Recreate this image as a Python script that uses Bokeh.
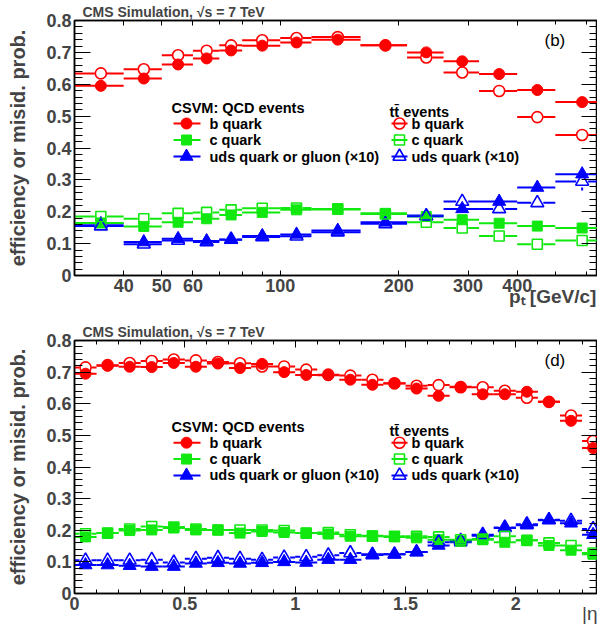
import math

from bokeh.plotting import figure
from bokeh.layouts import column
from bokeh.models import (Range1d, LinearScale, FixedTicker, LinearAxis, Label,
                          CustomJSTickFormatter)
from bokeh.embed import file_html
from bokeh.resources import INLINE

# ---------------- data: CSVM tagging efficiency / misidentification ----------------
# jet pT bins [GeV/c]
pt_edges = [30, 40, 50, 60, 70, 80, 100, 120, 160, 210, 260, 320, 400, 500, 670]
qcd_b_pt = [0.595, 0.618, 0.662, 0.681, 0.706, 0.721, 0.731, 0.740, 0.722, 0.700, 0.672, 0.632, 0.582, 0.544]
qcd_c_pt = [0.165, 0.154, 0.167, 0.178, 0.190, 0.198, 0.206, 0.207, 0.195, 0.185, 0.175, 0.164, 0.155, 0.149]
qcd_l_pt = [0.162, 0.105, 0.115, 0.108, 0.112, 0.124, 0.129, 0.141, 0.167, 0.188, 0.209, 0.232, 0.276, 0.318]
tt_b_pt = [0.634, 0.647, 0.691, 0.705, 0.722, 0.738, 0.745, 0.748, 0.722, 0.684, 0.637, 0.579, 0.497, 0.441]
tt_c_pt = [0.185, 0.178, 0.195, 0.198, 0.206, 0.211, 0.212, 0.209, 0.193, 0.167, 0.149, 0.124, 0.098, 0.110]
tt_l_pt = [0.155, 0.098, 0.110, 0.105, 0.113, 0.121, 0.123, 0.136, 0.162, 0.186, 0.232, 0.209, 0.228, 0.295]
tt_l_pt_err = [0, 0, 0, 0, 0, 0, 0, 0, 0, 0, 0, 0, 0.006, 0.028]

# jet |eta| bins
eta_edges = [0.0, 0.1, 0.2, 0.3, 0.4, 0.5, 0.6, 0.7, 0.8, 0.9, 1.0, 1.1, 1.2,
             1.3, 1.4, 1.5, 1.6, 1.7, 1.8, 1.9, 2.0, 2.1, 2.2, 2.3, 2.4]
qcd_b_eta = [0.695, 0.720, 0.717, 0.716, 0.729, 0.717, 0.727, 0.713, 0.726, 0.700, 0.691, 0.690,
             0.676, 0.660, 0.664, 0.648, 0.625, 0.654, 0.630, 0.630, 0.638, 0.606, 0.546, 0.460]
qcd_c_eta = [0.179, 0.191, 0.199, 0.201, 0.207, 0.201, 0.201, 0.191, 0.196, 0.193, 0.191, 0.188,
             0.181, 0.183, 0.179, 0.176, 0.170, 0.165, 0.170, 0.162, 0.168, 0.152, 0.137, 0.124]
qcd_l_eta = [0.090, 0.090, 0.088, 0.085, 0.085, 0.095, 0.097, 0.095, 0.097, 0.100, 0.098, 0.107,
             0.107, 0.124, 0.124, 0.131, 0.152, 0.162, 0.183, 0.207, 0.216, 0.232, 0.222, 0.186]
tt_b_eta = [0.715, 0.722, 0.729, 0.735, 0.740, 0.737, 0.732, 0.728, 0.718, 0.718, 0.708, 0.692,
            0.689, 0.676, 0.665, 0.657, 0.659, 0.652, 0.652, 0.641, 0.619, 0.606, 0.563, 0.482]
tt_c_eta = [0.189, 0.191, 0.204, 0.212, 0.210, 0.204, 0.201, 0.201, 0.201, 0.199, 0.191, 0.193,
            0.186, 0.181, 0.181, 0.181, 0.179, 0.170, 0.172, 0.181, 0.168, 0.160, 0.152, 0.128]
tt_l_eta = [0.105, 0.105, 0.105, 0.107, 0.098, 0.110, 0.113, 0.110, 0.107, 0.114, 0.116, 0.121,
            0.128, 0.122, 0.124, 0.131, 0.162, 0.167, 0.186, 0.209, 0.219, 0.233, 0.230, 0.204]

# axis ticks
y_ticks = [0, 0.1, 0.2, 0.3, 0.4, 0.5, 0.6, 0.7, 0.8]
pt_ticks = [40, 50, 60, 100, 200, 300, 400]
pt_minor_ticks = [70, 80, 90, 500, 600]
eta_ticks = [0, 0.5, 1, 1.5, 2]

# ---------------- style ----------------
FONT = "Liberation Sans"
RED, GREEN, BLUE = "#ff0000", "#10e810", "#0000ff"
FRAME_W, FRAME_H = 523, 255
PT_RANGE = (30, 640)
ETA_RANGE = (0, 2.37)
Y_RANGE = (0, 0.8)
GAP = 6  # px kept free around hollow markers
NBSP = "\u00a0"

qcd_keys = [("b quark", RED, "circle", 11),
            ("c quark", GREEN, "square", 10),
            ("uds quark or gluon (\u00d710)", BLUE, "triangle", 13)]
tt_keys = [("b quark", RED, "circle", 11),
           ("c quark", GREEN, "square", 10),
           ("uds quark (\u00d710)", BLUE, "triangle", 13)]

label_fmt = CustomJSTickFormatter(code="return String(Math.round(tick*10)/10)")
blank_fmt = CustomJSTickFormatter(code="return ''")
y_minor = [round(0.02 * i, 2) for i in range(41)]


def style_axis(ax, tick_in, minor_in, labels=True):
    ax.axis_line_color = "black"
    ax.axis_line_width = 1.5
    ax.major_tick_in = tick_in
    ax.major_tick_out = 0
    ax.minor_tick_in = minor_in
    ax.minor_tick_out = 0
    ax.major_tick_line_color = "black"
    ax.minor_tick_line_color = "black"
    if labels:
        ax.major_label_text_font = FONT
        ax.major_label_text_font_style = "bold"
        ax.major_label_text_font_size = "18px"
        ax.major_label_standoff = 3
    else:
        ax.formatter = blank_fmt
        ax.major_label_standoff = 0


def end_label(ax, text, size, bold, standoff):
    # axis title at the right end of the axis; the label is centred on the
    # axis end, so trailing no-break spaces push the visible text leftwards
    ax.axis_label = text
    ax.axis_label_text_font = FONT
    ax.axis_label_text_font_size = size
    ax.axis_label_text_font_style = "bold" if bold else "normal"
    ax.axis_label_standoff = standoff
    try:
        ax.axis_label_standoff_mode = "axis"
    except ValueError:
        pass
    try:
        ax.axis_label_align = "end"
    except ValueError:
        ax.axis_label_align = "right"


def make_panel(log_x, x_range, x_ticks, x_minor, top_border, bottom_border):
    p = figure(width=597, height=313,
               x_axis_type="log" if log_x else "linear",
               x_range=x_range, y_range=Y_RANGE,
               output_backend="svg", toolbar_location=None,
               min_border_left=74, min_border_right=0,
               min_border_top=top_border, min_border_bottom=bottom_border,
               background_fill_color="white", border_fill_color="white")
    p.grid.visible = False
    p.outline_line_color = "black"
    p.outline_line_width = 1.5

    p.title.text = "CMS Simulation, \u221as = 7 TeV"
    p.title.align = "left"
    p.title.offset = 8
    p.title.standoff = 1
    p.title.text_font = FONT
    p.title.text_font_size = "14px"
    p.title.text_font_style = "bold"

    xa = p.below[0]
    xa.ticker = FixedTicker(ticks=x_ticks, minor_ticks=x_minor)
    xa.formatter = label_fmt
    style_axis(xa, 5 if log_x else 7, 4)

    ya = p.left[0]
    ya.ticker = FixedTicker(ticks=y_ticks, minor_ticks=y_minor)
    ya.formatter = label_fmt
    style_axis(ya, 16, 8)
    ya.axis_label = "efficiency or misid. prob."
    ya.axis_label_text_font = FONT
    ya.axis_label_text_font_style = "bold"
    ya.axis_label_text_font_size = "20px"
    ya.axis_label_standoff = 14

    top_ax = LinearAxis(ticker=FixedTicker(ticks=x_ticks, minor_ticks=x_minor))
    style_axis(top_ax, 5 if log_x else 7, 4, labels=False)
    p.add_layout(top_ax, "above")
    right_ax = LinearAxis(ticker=FixedTicker(ticks=y_ticks, minor_ticks=y_minor))
    style_axis(right_ax, 16, 8, labels=False)
    p.add_layout(right_ax, "right")

    # pixel-based coordinates for the in-frame key and tag
    p.extra_x_ranges = {"px": Range1d(0, FRAME_W)}
    p.extra_x_scales = {"px": LinearScale()}
    p.extra_y_ranges = {"px": Range1d(0, FRAME_H)}
    p.extra_y_scales = {"px": LinearScale()}
    return p, xa


def text(p, x, y, s, size, bold=True):
    p.add_layout(Label(x=x, y=y, x_range_name="px", y_range_name="px", text=s,
                       text_font=FONT, text_font_size=size,
                       text_font_style="bold" if bold else "normal",
                       text_baseline="middle", text_align="left", text_color="black"))


def draw_series(p, edges, vals, color, marker, size, filled, xshift, yerr=None):
    lo, hi = edges[:-1], edges[1:]
    xc = [(a + b) / 2 for a, b in zip(lo, hi)]
    if filled:
        p.segment(x0=lo, y0=vals, x1=hi, y1=vals, line_color=color, line_width=2)
    else:
        p.segment(x0=lo, y0=vals, x1=[xshift(c, -1) for c in xc], y1=vals,
                  line_color=color, line_width=2)
        p.segment(x0=[xshift(c, 1) for c in xc], y0=vals, x1=hi, y1=vals,
                  line_color=color, line_width=2)
    if yerr is not None:
        dy = GAP * (Y_RANGE[1] - Y_RANGE[0]) / FRAME_H
        ex = [c for c, e in zip(xc, yerr) if e > dy]
        ev = [v for v, e in zip(vals, yerr) if e > dy]
        ee = [e for e in yerr if e > dy]
        p.segment(x0=ex, y0=[v + dy for v in ev], x1=ex, y1=[v + e for v, e in zip(ev, ee)],
                  line_color=color, line_width=2)
        p.segment(x0=ex, y0=[v - dy for v in ev], x1=ex, y1=[v - e for v, e in zip(ev, ee)],
                  line_color=color, line_width=2)
    p.scatter(xc, vals, marker=marker, size=size, line_color=color,
              fill_color=color if filled else None,
              line_width=1 if filled else 1.6)


def draw_key(p):
    rows = [152, 135.5, 119]
    text(p, 97, 168, "CSVM: QCD events", "14.5px")
    text(p, 315, 164, "tt\u0304 events", "14.5px")
    for keys, filled, (xa, xb), xm, xt in ((qcd_keys, True, (99, 126), 112, 135),
                                           (tt_keys, False, (317, 333), 325, 337)):
        for (lab, color, marker, size), y in zip(keys, rows):
            p.segment(x0=[xa], y0=[y], x1=[xb], y1=[y], line_color=color, line_width=2,
                      x_range_name="px", y_range_name="px")
            p.scatter([xm], [y], marker=marker, size=size, line_color=color,
                      fill_color=color if filled else None,
                      line_width=1 if filled else 1.6,
                      x_range_name="px", y_range_name="px")
            text(p, xt, y, lab, "14.5px")


def draw_panel(p, edges, series, xshift, tag):
    for vals, color, marker, size, filled, err in series:
        draw_series(p, edges, vals, color, marker, size, filled, xshift, err)
    draw_key(p)
    text(p, 470, 235, tag, "17px", bold=False)


# ---------------- top panel: vs pT ----------------
top, top_x = make_panel(True, PT_RANGE, pt_ticks, pt_minor_ticks, 20, 38)
ppd = FRAME_W / math.log10(PT_RANGE[1] / PT_RANGE[0])


def log_shift(c, d):
    return c * 10 ** (d * GAP / ppd)


draw_panel(top, pt_edges, [
    (qcd_l_pt, BLUE, "triangle", 13, True, None),
    (qcd_c_pt, GREEN, "square", 10, True, None),
    (qcd_b_pt, RED, "circle", 11, True, None),
    (tt_l_pt, BLUE, "triangle", 13, False, tt_l_pt_err),
    (tt_c_pt, GREEN, "square", 10, False, None),
    (tt_b_pt, RED, "circle", 11, False, None),
], log_shift, "(b)")
end_label(top_x, "p\u209c [GeV/c]" + NBSP * 17, "19px", True, 10)

# ---------------- bottom panel: vs |eta| ----------------
bottom, bottom_x = make_panel(False, ETA_RANGE, eta_ticks,
                              [round(0.1 * i, 1) for i in range(25)], 27, 31)
ppu = FRAME_W / (ETA_RANGE[1] - ETA_RANGE[0])


def lin_shift(c, d):
    return c + d * GAP / ppu


draw_panel(bottom, eta_edges, [
    (qcd_l_eta, BLUE, "triangle", 13, True, None),
    (qcd_c_eta, GREEN, "square", 10, True, None),
    (qcd_b_eta, RED, "circle", 11, True, None),
    (tt_l_eta, BLUE, "triangle", 13, False, None),
    (tt_c_eta, GREEN, "square", 10, False, None),
    (tt_b_eta, RED, "circle", 11, False, None),
], lin_shift, "(d)")
end_label(bottom_x, "|\u03b7|" + NBSP * 2, "19px", False, 9)

layout = column(top, bottom, spacing=0)
open("out.html", "w").write(file_html(layout, INLINE))
